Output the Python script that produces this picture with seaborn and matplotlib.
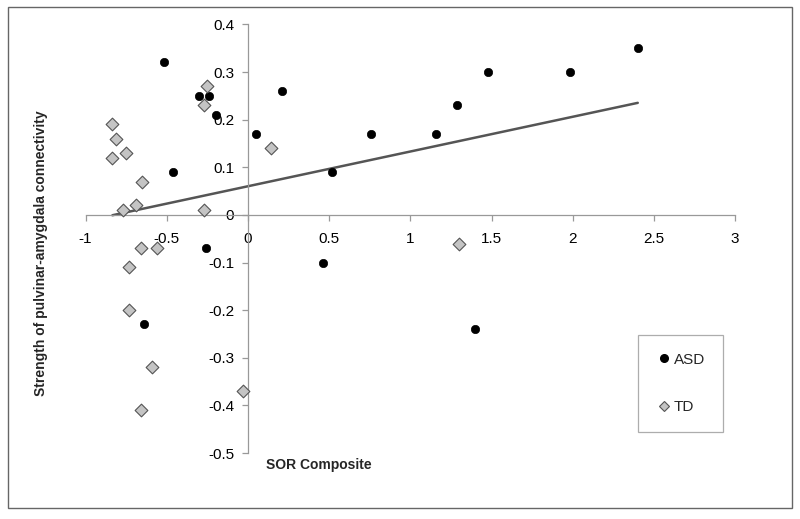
import matplotlib
matplotlib.use("Agg")
import matplotlib.pyplot as plt
import seaborn as sns
import pandas as pd
import numpy as np
from matplotlib.lines import Line2D
from matplotlib.patches import Rectangle

# ---- data ----
asd_x = [-0.52, -0.30, -0.24, -0.20, -0.46, 0.05, 0.21, -0.26, 0.46, -0.64,
         0.52, 0.76, 1.16, 1.29, 1.48, 1.98, 2.40, 1.40]
asd_y = [0.32, 0.25, 0.25, 0.21, 0.09, 0.17, 0.26, -0.07, -0.10, -0.23,
         0.09, 0.17, 0.17, 0.23, 0.30, 0.30, 0.35, -0.24]
td_x = [-0.25, -0.27, -0.835, -0.81, -0.75, -0.835, -0.65, -0.69, -0.77, -0.27,
        0.14, -0.66, -0.56, -0.73, -0.73, -0.59, -0.03, -0.66, 1.30]
td_y = [0.27, 0.23, 0.19, 0.16, 0.13, 0.12, 0.07, 0.02, 0.01, 0.01,
        0.14, -0.07, -0.07, -0.11, -0.20, -0.32, -0.37, -0.41, -0.06]
x_ticks = [-1, -0.5, 0, 0.5, 1, 1.5, 2, 2.5, 3]
y_ticks = [-0.5, -0.4, -0.3, -0.2, -0.1, 0, 0.1, 0.2, 0.3, 0.4]
x_label = "SOR Composite"
y_label = "Strength of pulvinar-amygdala connectivity"
groups = ["ASD", "TD"]

asd = pd.DataFrame({"x": asd_x, "y": asd_y, "group": "ASD"})
td = pd.DataFrame({"x": td_x, "y": td_y, "group": "TD"})
both = pd.concat([asd, td], ignore_index=True)

sns.set_theme(style="white")
plt.rcParams["font.family"] = ["Liberation Sans", "DejaVu Sans"]

fig = plt.figure(figsize=(8, 5.19), dpi=100)
ax = fig.add_axes([0.107, 0.127, 0.812, 0.826])

sns.regplot(data=both, x="x", y="y", scatter=False, ci=None, truncate=True,
            ax=ax, line_kws=dict(color="#555555", lw=1.8, zorder=2))
sns.scatterplot(data=asd, x="x", y="y", ax=ax, marker="o", color="black",
                s=36, edgecolor="black", linewidth=0.5, zorder=3, legend=False)
sns.scatterplot(data=td, x="x", y="y", ax=ax, marker="D", color="#c4c4c4",
                s=42, edgecolor="#555555", linewidth=0.8, zorder=3, legend=False)

ax.set_xlim(-1, 3)
ax.set_ylim(-0.5, 0.4)
ax.set_xticks(x_ticks)
ax.set_yticks(y_ticks)
ax.set_xticklabels([f"{v:g}" for v in x_ticks])
ax.set_yticklabels([f"{v:g}" for v in y_ticks])

for side in ["top", "right"]:
    ax.spines[side].set_visible(False)
ax.spines["left"].set_position(("data", 0))
ax.spines["bottom"].set_position(("data", 0))
for side in ["left", "bottom"]:
    ax.spines[side].set_color("#999999")
    ax.spines[side].set_linewidth(0.9)

ax.tick_params(axis="both", which="major", direction="out", length=4,
               width=0.9, color="#999999", labelsize=11, labelcolor="black",
               bottom=True, left=True)
ax.tick_params(axis="x", pad=8)
ax.tick_params(axis="y", pad=6)
ax.set_xlabel("")
ax.set_ylabel("")

fig.text(0.398, 0.104, x_label, ha="center", va="center",
         fontsize=10, fontweight="bold")
fig.text(0.051, 0.5125, y_label, ha="center", va="center", rotation=90,
         fontsize=10, fontweight="bold")

handles = [
    Line2D([], [], marker="o", linestyle="none", color="black",
           markersize=5.5, label=groups[0]),
    Line2D([], [], marker="D", linestyle="none", markerfacecolor="#c4c4c4",
           markeredgecolor="#555555", markeredgewidth=0.8, markersize=5,
           label=groups[1]),
]
leg = ax.legend(handles=handles, loc="upper left",
                bbox_to_anchor=(0.7975, 0.3545), bbox_transform=fig.transFigure,
                fontsize=11, frameon=True, fancybox=False, borderpad=1.15,
                labelspacing=2.2, handlelength=1.05, handletextpad=0.15,
                borderaxespad=0)
leg.get_frame().set_edgecolor("#999999")
leg.get_frame().set_linewidth(0.9)

fig.patches.append(Rectangle((0.01, 0.021), 0.98, 0.965, transform=fig.transFigure,
                             fill=False, edgecolor="#666666", linewidth=1.0))

fig.savefig("out.png", dpi=100)
